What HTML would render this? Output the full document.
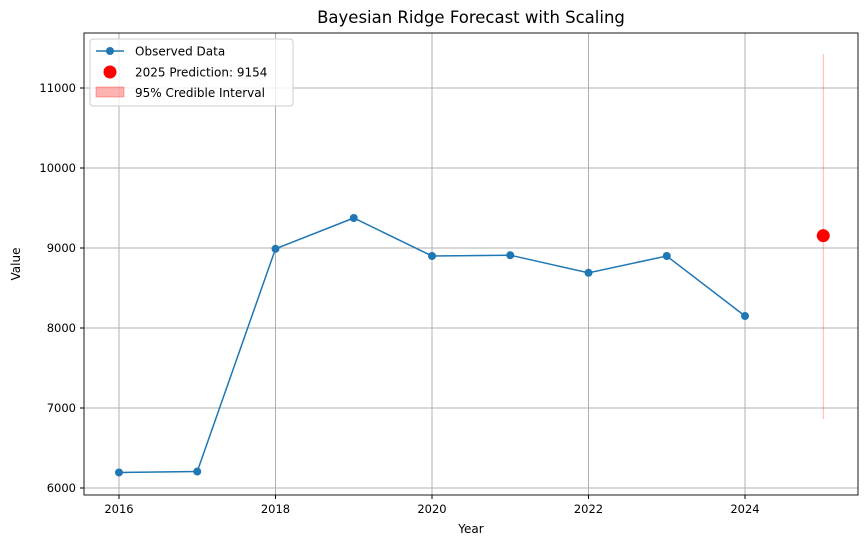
<!DOCTYPE html>
<html><head><meta charset="utf-8"><style>
body{margin:0;background:#fff;font-family:"Liberation Sans","DejaVu Sans",sans-serif;}
svg text{font-family:"DejaVu Sans","Liberation Sans",sans-serif;}
</style></head><body>
<svg id="chart" width="868" height="547" xmlns="http://www.w3.org/2000/svg">
<rect width="868" height="547" fill="#fff"/>
<g id="grid"></g>
<g id="marks"></g>
<rect x="84" y="33" width="774" height="462" fill="none" stroke="#000" stroke-width="0.9"/>
<g id="ticks"></g>
<text x="471" y="23" text-anchor="middle" font-size="16.5">Bayesian Ridge Forecast with Scaling</text>
<text x="471" y="533" text-anchor="middle" font-size="12">Year</text>
<text transform="translate(20,264) rotate(-90)" text-anchor="middle" font-size="12">Value</text>
<g>
<rect x="90" y="39" width="203" height="67" fill="#fff" fill-opacity="0.8" stroke="#ccc" rx="3"/>
<g>
<line x1="96" y1="51" x2="124" y2="51" stroke="#1f77b4" stroke-width="1.5"/>
<circle cx="110" cy="51" r="4" fill="#1f77b4"/>
<text x="135" y="55.5" font-size="12">Observed Data</text></g>
<g>
<circle cx="110" cy="72" r="6.5" fill="#ff0000"/>
<text x="135" y="76.5" font-size="12">2025 Prediction: 9154</text></g>
<g>
<rect x="96" y="87" width="28" height="10" fill="#ff0000" fill-opacity="0.3" stroke="#ff0000" stroke-opacity="0.3"/>
<text x="135" y="97" font-size="12">95% Credible Interval</text></g>
</g>
</svg>
<script>
const years=[2016,2017,2018,2019,2020,2021,2022,2023,2024];
const values=[6194,6206,8990,9375,8900,8910,8690,8900,8150];
const predYear=2025;
const predValue=9154;
const ciLow=6862;
const ciHigh=11425;
const xTicks=[2016,2018,2020,2022,2024];
const yTicks=[6000,7000,8000,9000,10000,11000];
const NS="http://www.w3.org/2000/svg";
const xs=v=>119+(v-2016)*78.25;
const ys=v=>488-(v-6000)*0.08;
function mk(tag,attrs,parent){const e=document.createElementNS(NS,tag);for(const k in attrs)e.setAttribute(k,attrs[k]);document.getElementById(parent).appendChild(e);return e;}
xTicks.forEach(t=>{
 const g=mk('line',{x1:xs(t),x2:xs(t),y1:33,y2:495,stroke:'#b0b0b0','stroke-width':1},'grid');
 
 
 const tk=mk('line',{x1:xs(t),x2:xs(t),y1:495,y2:499,stroke:'#000'},'ticks');
 
 
 const tx=mk('text',{x:xs(t),y:513,'text-anchor':'middle','font-size':11.5},'ticks');tx.textContent=t;
 
 
});
yTicks.forEach(t=>{
 const g=mk('line',{x1:84,x2:858,y1:ys(t),y2:ys(t),stroke:'#b0b0b0','stroke-width':1},'grid');
 
 
 const tk=mk('line',{x1:80,x2:84,y1:ys(t),y2:ys(t),stroke:'#000'},'ticks');
 
 
 const tx=mk('text',{x:76,y:ys(t)+4,'text-anchor':'end','font-size':11.5},'ticks');tx.textContent=t;
 
 
});
const ci=mk('line',{x1:xs(predYear),x2:xs(predYear),y1:ys(ciHigh),y2:ys(ciLow),stroke:'#ff0000','stroke-opacity':0.3,'stroke-width':1},'marks');


const line=mk('polyline',{points:years.map((y,i)=>xs(y)+','+ys(values[i])).join(' '),fill:'none',stroke:'#1f77b4','stroke-width':1.5},'marks');


years.forEach((y,i)=>{
 const c=mk('circle',{cx:xs(y),cy:ys(values[i]),r:4,fill:'#1f77b4'},'marks');
 
 
});
const p=mk('circle',{cx:xs(predYear),cy:ys(predValue),r:6.5,fill:'#ff0000'},'marks');


</script>
</body></html>
